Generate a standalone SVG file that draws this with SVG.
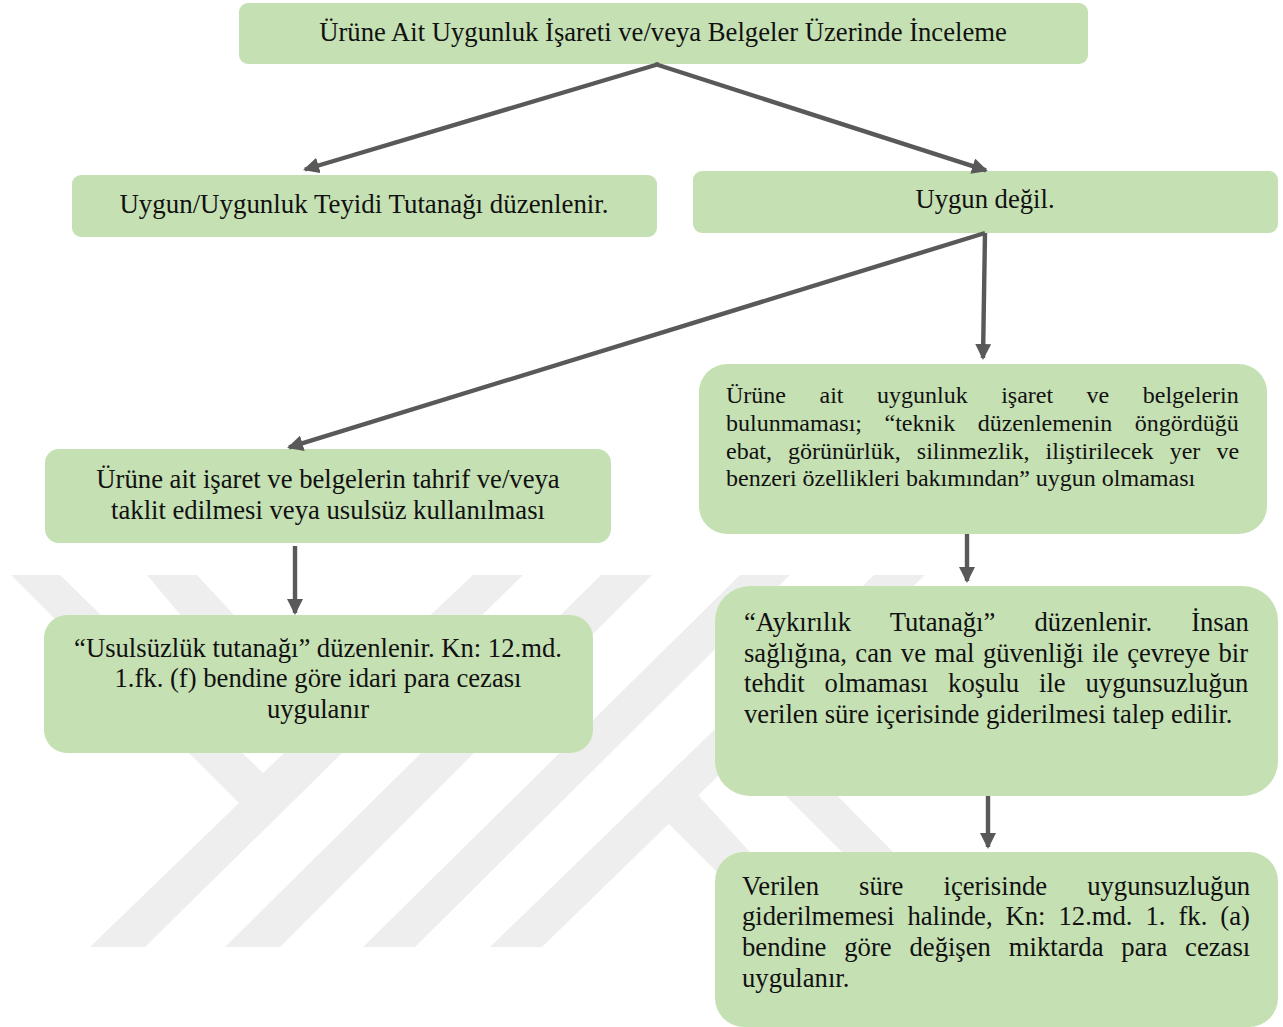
<svg xmlns="http://www.w3.org/2000/svg" width="1283" height="1027" viewBox="0 0 1283 1027">
<style>
.b{fill:#c5e0b3}
.t{font-family:"Liberation Serif","Times New Roman",serif;font-size:26.67px;fill:#111}
.s{font-size:24px}
.m{text-anchor:middle}
.c{stroke:#595959;stroke-width:4.4;fill:none;marker-end:url(#a)}
.w{fill:#eee}
</style>
<defs>
<marker id="a" markerUnits="userSpaceOnUse" markerWidth="18" markerHeight="16" refX="14" refY="8" orient="auto"><path d="M0 0L16 8L0 16Z" fill="#595959"/></marker>
<filter id="f" x="-2%" y="-2%" width="104%" height="104%"><feGaussianBlur stdDeviation="0.7"/></filter>
</defs>
<rect width="1283" height="1027" fill="#fff"/>
<g id="watermark" filter="url(#f)">
<polygon class="w" points="11,575 60,575 263,773 473,575 523,575 145,947 90,947 239,803"/>
<polygon class="w" points="147,575 197,575 345,735 310,770"/>
<polygon class="w" points="601,575 652,575 280,947 225,947"/>
<polygon class="w" points="740,575 790,575 415,947 363,947"/>
<polygon class="w" points="874,575 925,575 542,947 490,947"/>
<polygon class="w" points="698,795 750,852 780,885 740,895 668,823"/>
<polygon class="w" points="760,770 812,770 892,851 900,870 860,870"/>
</g>
<g id="n1"><rect class="b" x="239" y="3" width="849" height="61" rx="9"/><text class="t m" x="663" y="40.5">Ürüne Ait Uygunluk İşareti ve/veya Belgeler Üzerinde İnceleme</text></g>
<g id="n2"><rect class="b" x="72" y="175" width="585" height="62" rx="9"/><text class="t m" x="364" y="212.5" style="font-size:26.9px">Uygun/Uygunluk Teyidi Tutanağı düzenlenir.</text></g>
<g id="n3"><rect class="b" x="693" y="171" width="585" height="62" rx="9"/><text class="t m" x="985" y="207.5">Uygun değil.</text></g>
<g id="n4"><rect class="b" x="45" y="449" width="566" height="94" rx="14"/><text class="t m" x="328" y="487.5">Ürüne ait işaret ve belgelerin tahrif ve/veya</text><text class="t m" x="328" y="518.5">taklit edilmesi veya usulsüz kullanılması</text></g>
<g id="n5"><rect class="b" x="699" y="364" width="568" height="170" rx="28"/>
<text class="t s" x="726" y="403" word-spacing="27.5">Ürüne ait uygunluk işaret ve belgelerin</text>
<text class="t s" x="726" y="431" word-spacing="16.5">bulunmaması; “teknik düzenlemenin öngördüğü</text>
<text class="t s" x="726" y="459" word-spacing="10.1">ebat, görünürlük, silinmezlik, iliştirilecek yer ve</text>
<text class="t s" x="726" y="486">benzeri özellikleri bakımından” uygun olmaması</text></g>
<g id="n6"><rect class="b" x="44" y="615" width="549" height="138" rx="23"/><text class="t m" x="318" y="656.5">“Usulsüzlük tutanağı” düzenlenir. Kn: 12.md.</text><text class="t m" x="318" y="686.5">1.fk. (f) bendine göre idari para cezası</text><text class="t m" x="318" y="717.5">uygulanır</text></g>
<g id="n7"><rect class="b" x="715" y="586" width="563" height="210" rx="35"/>
<text class="t" x="744" y="630.5" word-spacing="32.4">“Aykırılık Tutanağı” düzenlenir. İnsan</text>
<text class="t" x="744" y="661.5" word-spacing="1.8">sağlığına, can ve mal güvenliği ile çevreye bir</text>
<text class="t" x="744" y="691.5" word-spacing="13.2">tehdit olmaması koşulu ile uygunsuzluğun</text>
<text class="t" x="744" y="722.5">verilen süre içerisinde giderilmesi talep edilir.</text></g>
<g id="n8"><rect class="b" x="715" y="852" width="563" height="175" rx="29"/>
<text class="t" x="742" y="894.5" word-spacing="33.4">Verilen süre içerisinde uygunsuzluğun</text>
<text class="t" x="742" y="924.5" word-spacing="6.3">giderilmemesi halinde, Kn: 12.md. 1. fk. (a)</text>
<text class="t" x="742" y="955.5" word-spacing="11.2">bendine göre değişen miktarda para cezası</text>
<text class="t" x="742" y="986.5">uygulanır.</text></g>
<g id="connectors">
<line class="c" x1="659" y1="64" x2="305" y2="169.5"/>
<line class="c" x1="655" y1="64" x2="986" y2="170.4"/>
<line class="c" x1="985" y1="233" x2="289" y2="447.4"/>
<line class="c" x1="985" y1="233" x2="983" y2="358"/>
<line class="c" x1="295" y1="546" x2="295" y2="613"/>
<line class="c" x1="967" y1="534" x2="967" y2="581"/>
<line class="c" x1="988" y1="796" x2="988" y2="847"/>
</g>
</svg>
